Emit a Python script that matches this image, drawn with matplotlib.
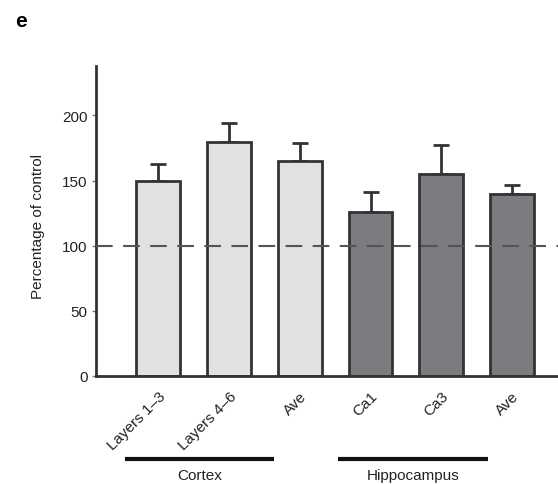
import matplotlib
matplotlib.use("Agg")
import matplotlib.pyplot as plt
import matplotlib.transforms as mtransforms

plt.rcParams['font.family'] = ['Liberation Sans', 'DejaVu Sans']

categories = ["Layers 1\u20133", "Layers 4\u20136", "Ave", "Ca1", "Ca3", "Ave"]
values = [150, 180, 165, 126, 155, 140]
errors = [12.5, 14, 13.5, 15, 22, 6.5]
colors = ["#e0e1e3", "#e0e1e3", "#e0e1e3", "#7b7c7f", "#7b7c7f", "#7b7c7f"]
yticks = [0, 50, 100, 150, 200]
groups = ["Cortex", "Hippocampus"]
group_spans = [(-0.47, 1.64), (2.54, 4.66)]

fig = plt.figure(figsize=(5.58, 4.85), dpi=100)
ax = fig.add_axes([0.172, 0.2227, 0.828, 0.6392])

x = list(range(len(categories)))
ec = "#333333"
ax.bar(x, values, width=0.62, color=colors, edgecolor=ec, linewidth=2, zorder=2)
ax.errorbar(x, values, yerr=[[0]*len(errors), errors], fmt='none', ecolor=ec,
            elinewidth=2, capsize=5.5, capthick=2, zorder=1)
ax.axhline(100, color="#555555", lw=1.5, dashes=(8, 5), zorder=3)

ax.set_xlim(-0.88, 5.65)
ax.set_ylim(0, 238)
ax.set_yticks(yticks)
ax.set_xticks(x)
ax.set_xticklabels(categories, rotation=45, ha='right', rotation_mode='anchor', fontsize=11,
                   color="#222222")
for lbl in ax.get_xticklabels():
    lbl.set_transform(lbl.get_transform() + mtransforms.ScaledTranslation(3/100, 0, fig.dpi_scale_trans))
ax.tick_params(axis='x', length=0, pad=9)
ax.tick_params(axis='y', length=3, width=1, color="#777777", labelsize=11, pad=3,
               labelcolor="#222222")
ax.set_ylabel("Percentage of control", fontsize=11, color="#222222")
ax.yaxis.set_label_coords(-0.11, 0.485)

for s in ["top", "right"]:
    ax.spines[s].set_visible(False)
for s in ["left", "bottom"]:
    ax.spines[s].set_linewidth(2)
    ax.spines[s].set_color(ec)

trans = mtransforms.blended_transform_factory(ax.transData, fig.transFigure)
for name, (a, b) in zip(groups, group_spans):
    ax.plot([a, b], [0.0515, 0.0515], transform=trans, color="#111111", lw=3, clip_on=False,
            solid_capstyle='butt')
    ax.text((a + b) / 2, 0.019, name, transform=trans, ha='center', va='center', fontsize=11,
            color="#222222")

fig.text(0.027, 0.955, "e", fontsize=15, fontweight='bold', ha='left', va='center')

fig.savefig("out.png", dpi=100)
